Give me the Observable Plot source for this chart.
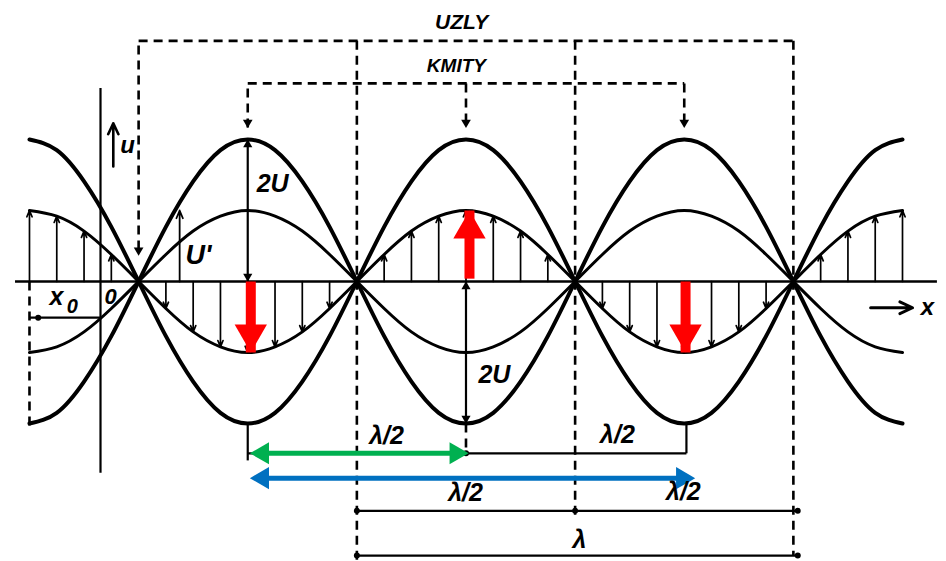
<!DOCTYPE html>
<html><head><meta charset="utf-8">
<script src="https://cdn.jsdelivr.net/npm/d3@7"></script>
<script src="https://cdn.jsdelivr.net/npm/@observablehq/plot@0.6"></script>
<style>body{margin:0;background:#fff}svg{display:block}</style>
</head><body><div id="chart"></div>
<script>
// ---- data (x in wavelengths λ, displacement in units of U) ----
const xs = [0, 0.0625, 0.125, 0.1875, 0.25, 0.3125, 0.375, 0.4375, 0.5, 0.5625, 0.625, 0.6875, 0.75, 0.8125, 0.875, 0.9375,
            1, 1.0625, 1.125, 1.1875, 1.25, 1.3125, 1.375, 1.4375, 1.5, 1.5625, 1.625, 1.6875, 1.75, 1.8125, 1.875, 1.9375, 2];
// hatched wave (U')
const innerWaveA = [1, 0.92, 0.71, 0.38, 0, -0.38, -0.71, -0.92, -1, -0.92, -0.71, -0.38, 0, 0.38, 0.71, 0.92,
                    1, 0.92, 0.71, 0.38, 0, -0.38, -0.71, -0.92, -1, -0.92, -0.71, -0.38, 0, 0.38, 0.71, 0.92, 1];
const innerWaveB = [-1, -0.92, -0.71, -0.38, 0, 0.38, 0.71, 0.92, 1, 0.92, 0.71, 0.38, 0, -0.38, -0.71, -0.92,
                    -1, -0.92, -0.71, -0.38, 0, 0.38, 0.71, 0.92, 1, 0.92, 0.71, 0.38, 0, -0.38, -0.71, -0.92, -1];
// envelope waves (2U)
const outerWaveA = [2, 1.85, 1.41, 0.77, 0, -0.77, -1.41, -1.85, -2, -1.85, -1.41, -0.77, 0, 0.77, 1.41, 1.85,
                    2, 1.85, 1.41, 0.77, 0, -0.77, -1.41, -1.85, -2, -1.85, -1.41, -0.77, 0, 0.77, 1.41, 1.85, 2];
const outerWaveB = [-2, -1.85, -1.41, -0.77, 0, 0.77, 1.41, 1.85, 2, 1.85, 1.41, 0.77, 0, -0.77, -1.41, -1.85,
                    -2, -1.85, -1.41, -0.77, 0, 0.77, 1.41, 1.85, 2, 1.85, 1.41, 0.77, 0, -0.77, -1.41, -1.85, -2];
const nodes = [0.25, 0.75, 1.25, 1.75];          // UZLY
const antinodes = [0.5, 1.0, 1.5];              // KMITY
const redArrowX = [0.507, 1.008, 1.503];
const redArrowTip = [-1, 1, -1];
const uPrimeX = 0.344, uPrimeValue = 1.0;
const greenArrow = [0.505, 1.006];
const blueArrow = [0.505, 1.525];
const labelTexts = ["UZLY", "KMITY", "u", "2U", "U'", "2U", "x", "0", "0", "x", "λ/2", "λ/2", "λ/2", "λ/2", "λ"];

// ---- drawing ----
const idx = d3.range(xs.length);
const hatch = idx.filter(i => innerWaveA[i] !== 0);
const font = "Liberation Sans, Arial, sans-serif";
const T = (i, x, y, size) => Plot.text([labelTexts[i]], {x: () => x, y: () => y, text: d => d, fontSize: size,
  fontStyle: "italic", fontWeight: "bold", fontFamily: font, fill: "#000"});
const seg = (list, opts) => Plot.link(list, {x1: d => d[0], y1: d => d[1], x2: d => d[2], y2: d => d[3], stroke: "#000", ...opts});
const tri = (list, r, opts) => Plot.dot(list, {x: d => d[0], y: d => d[1], symbol: "triangle", r, fill: "#000", stroke: null, ...opts});

const uzlyY = 3.39, kmityY = 2.79, tipY = 2.17;
const dimHalfY = -2.42, dimHalf2Y = -3.23, dimLambdaY = -3.86;
const redDown = [0, 1, 2].filter(i => redArrowTip[i] < 0);
const redUp = [0, 1, 2].filter(i => redArrowTip[i] > 0);

const chart = Plot.plot({
  width: 946, height: 561,
  marginTop: 0, marginRight: 0, marginBottom: 0, marginLeft: 0,
  x: {domain: [-0.0664, 2.1008], range: [0, 946], axis: null},
  y: {domain: [-3.944, 3.958], range: [561, 0], axis: null},
  style: {background: "#fff"},
  marks: [
    // dashed guide lines
    seg([[nodes[0], 0.45, nodes[0], uzlyY], [nodes[0], uzlyY, nodes[3], uzlyY], [nodes[3], uzlyY, nodes[3], dimLambdaY],
         [nodes[1], uzlyY, nodes[1], -3.94], [nodes[2], uzlyY, nodes[2], -3.37],
         [antinodes[0], tipY, antinodes[0], kmityY], [antinodes[0], kmityY, antinodes[2], kmityY],
         [antinodes[2], kmityY, antinodes[2], tipY], [antinodes[1], kmityY, antinodes[1], tipY],
         [antinodes[1], -2, antinodes[1], dimHalfY], [0, 0, 0, -2.03]],
        {strokeWidth: 2.6, strokeDasharray: "9,6"}),
    tri([[nodes[0], 0.37], [antinodes[0], tipY], [antinodes[1], tipY], [antinodes[2], tipY]], 3.6, {rotate: 180, dy: -5}),
    // axes
    Plot.ruleY([0], {x1: -0.032, x2: 2.08, stroke: "#000", strokeWidth: 2.6}),
    Plot.ruleX([0.1627], {y1: -2.70, y2: 2.72, stroke: "#000", strokeWidth: 2.2}),
    Plot.arrow([0], {x1: 0.192, y1: 1.62, x2: 0.192, y2: 2.23, stroke: "#000", strokeWidth: 2.6, headLength: 7, headAngle: 50}),
    Plot.arrow([0], {x1: 1.927, y1: -0.37, x2: 2.023, y2: -0.37, stroke: "#000", strokeWidth: 3, headLength: 7, headAngle: 50}),
    // hatch arrows
    Plot.arrow(hatch, {x1: i => xs[i], y1: () => 0, x2: i => xs[i], y2: i => innerWaveA[i], stroke: "#000", strokeWidth: 1.7, headLength: 6, headAngle: 45}),
    Plot.arrow([0], {x1: () => uPrimeX, y1: () => 0, x2: () => uPrimeX, y2: () => uPrimeValue, stroke: "#000", strokeWidth: 1.8, headLength: 7, headAngle: 45}),
    // waves
    Plot.line(idx, {x: i => xs[i], y: i => outerWaveA[i], curve: "natural", stroke: "#000", strokeWidth: 4}),
    Plot.line(idx, {x: i => xs[i], y: i => outerWaveB[i], curve: "natural", stroke: "#000", strokeWidth: 4}),
    Plot.line(idx, {x: i => xs[i], y: i => innerWaveA[i], curve: "natural", stroke: "#000", strokeWidth: 3}),
    Plot.line(idx, {x: i => xs[i], y: i => innerWaveB[i], curve: "natural", stroke: "#000", strokeWidth: 3}),
    // solid dimension lines
    seg([[antinodes[0], 0, antinodes[0], 2], [antinodes[1], 0, antinodes[1], -2],
         [antinodes[0], -2, antinodes[0], -2.52], [1.505, -2, 1.505, dimHalfY], [antinodes[0], dimHalfY, 1.505, dimHalfY],
         [nodes[1], dimHalf2Y, 1.76, dimHalf2Y], [nodes[1], dimLambdaY, 1.76, dimLambdaY],
         [0, -0.51, 0.1627, -0.51]], {strokeWidth: 2.2}),
    tri([[antinodes[0], 2], [antinodes[1], 0]], 3.4, {dy: 5}),
    tri([[antinodes[0], 0], [antinodes[1], -2]], 3.4, {rotate: 180, dy: -5}),
    Plot.dot([[nodes[1], dimHalf2Y], [nodes[2], dimHalf2Y], [1.76, dimHalf2Y], [nodes[1], dimLambdaY], [1.76, dimLambdaY],
              [1.0, dimHalfY], [0.02, -0.51]],
             {x: d => d[0], y: d => d[1], r: 3, fill: "#000"}),
    // red arrows
    Plot.link(redDown, {x1: i => redArrowX[i], y1: () => 0, x2: i => redArrowX[i], y2: i => redArrowTip[i],
      stroke: "#ff0000", strokeWidth: 10, strokeLinecap: "butt", insetBottom: 0}),
    Plot.link(redUp, {x1: i => redArrowX[i], y1: () => 0.04, x2: i => redArrowX[i], y2: i => redArrowTip[i],
      stroke: "#ff0000", strokeWidth: 10, strokeLinecap: "butt"}),
    tri(redDown.map(i => [redArrowX[i], redArrowTip[i]]), 12, {fill: "#ff0000", rotate: 180, dy: -18.7}),
    tri(redUp.map(i => [redArrowX[i], redArrowTip[i]]), 12, {fill: "#ff0000", rotate: 0, dy: 18.7}),
    // green & blue arrows
    Plot.ruleY([dimHalfY], {x1: greenArrow[0], x2: greenArrow[1], stroke: "#00b050", strokeWidth: 5, insetLeft: 14, insetRight: 14}),
    tri([[greenArrow[0], dimHalfY]], 8.2, {fill: "#00b050", rotate: 270, dx: 12.7}),
    tri([[greenArrow[1], dimHalfY]], 8.2, {fill: "#00b050", rotate: 90, dx: -12.7}),
    Plot.ruleY([-2.77], {x1: blueArrow[0], x2: blueArrow[1], stroke: "#0070c0", strokeWidth: 5, insetLeft: 14, insetRight: 14}),
    tri([[blueArrow[0], -2.77]], 8.2, {fill: "#0070c0", rotate: 270, dx: 12.7}),
    tri([[blueArrow[1], -2.77]], 8.2, {fill: "#0070c0", rotate: 90, dx: -12.7}),
    // labels
    T(0, 0.99, 3.65, 21), T(1, 0.978, 3.04, 19), T(2, 0.225, 1.92, 24),
    T(3, 0.557, 1.37, 25), T(4, 0.387, 0.37, 27), T(5, 1.065, -1.31, 25),
    T(6, 0.062, -0.22, 25), T(7, 0.098, -0.35, 20), T(8, 0.186, -0.22, 22), T(9, 2.057, -0.37, 24),
    T(10, 0.818, -2.18, 25), T(11, 1.347, -2.16, 25), T(12, 0.999, -2.98, 25), T(13, 1.498, -2.96, 25), T(14, 1.26, -3.64, 25)
  ]
});
document.getElementById("chart").append(chart);
</script></body></html>
